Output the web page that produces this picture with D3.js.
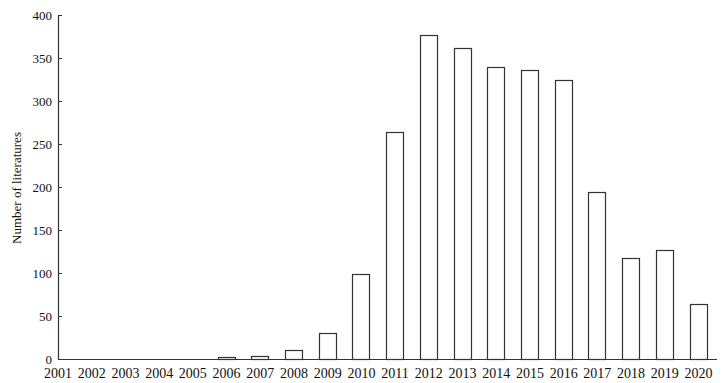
<!DOCTYPE html>
<html>
<head>
<meta charset="utf-8">
<script src="https://cdn.jsdelivr.net/npm/d3@7"></script>
<style>
  body { margin: 0; background: #fff; }
  svg text { font-family: "Liberation Serif", "Times New Roman", serif; fill: #111; }
</style>
</head>
<body>
<svg id="chart" width="725" height="383"></svg>
<script>
var years = ["2001", "2002", "2003", "2004", "2005", "2006", "2007", "2008", "2009", "2010",
    "2011", "2012", "2013", "2014", "2015", "2016", "2017", "2018", "2019", "2020"];
var counts = [0, 0, 0, 0, 0, 2, 3, 11, 30, 99, 264, 377, 362, 339, 336, 324, 194, 117, 127, 64];
var yTicks = [0, 50, 100, 150, 200, 250, 300, 350, 400];

var data = years.map(function(y, i) {
    return { year: y, value: counts[i] };
});

var svg = d3.select("#chart");

var axisLeftX = 58,
    axisRightX = 717,
    plotTop = 15,
    plotBottom = 359,
    barWidth = 17;

var x = d3.scalePoint()
    .domain(years)
    .range([57.5, 698]);

var y = d3.scaleLinear()
    .domain([0, 400])
    .range([plotBottom, plotTop]);

// bars
svg.append("g")
    .selectAll("rect")
    .data(data.filter(function(d) { return d.value > 0; }))
    .enter()
    .append("rect")
    .attr("x", function(d) { return Math.round(x(d.year) - barWidth / 2) + 0.5; })
    .attr("y", function(d) { return Math.round(y(d.value)) + 0.5; })
    .attr("width", barWidth)
    .attr("height", function(d) { return Math.round(plotBottom - y(d.value)); })
    .attr("fill", "#fff")
    .attr("stroke", "#333")
    .attr("stroke-width", 1.2);

// y axis, ticks point inward
var yAxis = svg.append("g")
    .attr("transform", "translate(" + axisLeftX + ",0)")
    .call(d3.axisLeft(y).tickValues(yTicks).tickSizeInner(-4).tickSizeOuter(0).tickPadding(6));
yAxis.select(".domain").attr("stroke", "#333").attr("stroke-width", 1.2);
yAxis.selectAll(".tick line").attr("stroke", "#333");
yAxis.selectAll("text").style("font-size", "13px").attr("fill", "#111");

// x axis line
svg.append("line")
    .attr("x1", axisLeftX)
    .attr("x2", axisRightX)
    .attr("y1", plotBottom + 0.5)
    .attr("y2", plotBottom + 0.5)
    .attr("stroke", "#333")
    .attr("stroke-width", 1.2);

var xAxis = svg.append("g")
    .attr("transform", "translate(0," + plotBottom + ")")
    .call(d3.axisBottom(x).tickSize(0).tickPadding(9));
xAxis.select(".domain").remove();
xAxis.selectAll("text").style("font-size", "14px").attr("fill", "#111");

// y axis title
svg.append("text")
    .attr("transform", "translate(21,188) rotate(-90)")
    .attr("text-anchor", "middle")
    .style("font-size", "13px")
    .text("Number of literatures");
</script>
</body>
</html>
